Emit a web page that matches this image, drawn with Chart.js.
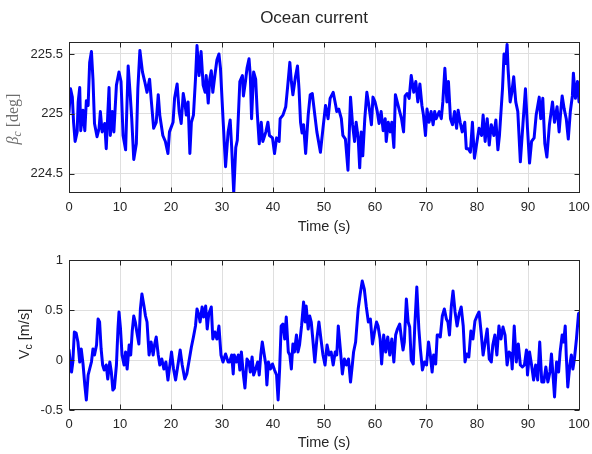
<!DOCTYPE html>
<html>
<head>
<meta charset="utf-8">
<script src="https://cdn.jsdelivr.net/npm/chart.js@4/dist/chart.umd.min.js"></script>
<style>
  html, body { margin: 0; padding: 0; background: #ffffff; }
  #wrap { position: relative; width: 592px; height: 454px; background: #ffffff; }
  canvas { position: absolute; left: 0; }
</style>
</head>
<body>
<div id="wrap">
  <canvas id="c1" width="592" height="236" style="top:0px"></canvas>
  <canvas id="c2" width="592" height="218" style="top:236px"></canvas>
</div>
<script>
// ---------------- data ----------------
const chartTitle = 'Ocean current';
const xLabel = 'Time (s)';
const xTicks = [0, 10, 20, 30, 40, 50, 60, 70, 80, 90, 100];
const betaTicks = [224.5, 225, 225.5];
const vTicks = [-0.5, 0, 0.5, 1];

const timeTop = [
  0, 0.3, 0.65, 0.9, 1.2, 1.6, 1.8, 2.1, 2.3, 2.75, 3.1, 3.4, 3.75, 4.05, 4.4, 4.7, 5.0, 5.5, 5.9, 6.15,
  6.5, 7.0, 7.3, 7.6, 7.85, 8.1, 8.5, 8.8, 9.3, 9.8, 10.2, 10.6, 11.1, 11.6, 12.0, 12.3, 12.7, 13.2, 13.5, 13.9,
  14.4, 14.85, 15.3, 15.8, 16.1, 16.6, 17.1, 17.5, 17.8, 18.4, 18.9, 19.4, 19.7, 20.4, 20.7, 21.2, 21.6, 22.0, 22.4, 22.7,
  23.0, 23.35, 23.7, 24.0, 24.4, 24.8, 25.1, 25.5, 25.9, 26.3, 26.7, 26.9, 27.3, 27.6, 27.9, 28.2, 28.6, 29.0, 29.4, 29.7,
  30.2, 30.7, 31.2, 31.6, 31.9, 32.3, 32.7, 33.0, 33.5, 34.0, 34.2, 34.6, 34.9, 35.3, 35.55, 35.8, 36.2, 36.6, 36.9, 37.3,
  37.7, 38.0, 38.6, 39.0, 39.3, 39.9, 40.3, 40.7, 41.2, 41.4, 41.95, 42.5, 42.9, 43.3, 43.6, 43.9, 44.4, 44.8, 45.1, 45.4,
  45.7, 46.0, 46.4, 46.9, 47.3, 47.7, 48.2, 48.6, 49.3, 49.8, 50.3, 50.8, 51.2, 51.8, 52.3, 52.5, 52.9, 53.4, 53.7, 54.2,
  54.7, 55.2, 55.6, 56.0, 56.3, 56.7, 57.0, 57.3, 57.6, 58.0, 58.4, 58.8, 59.3, 59.6, 60.0, 60.4, 60.8, 61.2, 61.6, 62.0,
  62.2, 62.6, 63.0, 63.3, 63.7, 64.0, 64.84, 65.2, 65.6, 65.9, 66.3, 66.7, 67.1, 67.6, 68.0, 68.4, 68.8, 69.2, 69.5, 69.9,
  70.2, 70.6, 71.0, 71.4, 71.7, 72.0, 72.6, 73.0, 73.3, 73.7, 74.1, 74.4, 74.8, 75.2, 75.6, 76.0, 76.3, 76.7, 77.1, 77.6,
  77.9, 78.3, 78.7, 79.1, 79.5, 80.0, 80.4, 80.9, 81.2, 81.6, 82.0, 82.4, 82.8, 83.3, 83.7, 84.1, 84.4, 85.0, 85.3, 85.6,
  85.9, 86.1, 86.5, 86.8, 87.2, 87.6, 88.0, 88.5, 89.0, 89.5, 89.9, 90.3, 90.7, 91.2, 91.6, 92.2, 92.5, 92.9, 93.3, 93.7,
  94.2, 94.8, 95.2, 95.7, 96.1, 96.5, 96.7, 97.1, 97.5, 97.9, 98.3, 98.7, 98.9, 99.3, 99.7, 100
];
const betaC = [
  225.01, 225.21, 225.14, 224.93, 224.77, 224.85, 225.10, 225.22, 224.86, 225.03, 224.86, 225.11, 225.07, 225.43, 225.52, 225.29, 224.92, 224.81, 224.88, 225.02,
  224.85, 224.92, 224.71, 224.99, 225.22, 224.82, 225.02, 224.85, 225.24, 225.35, 225.27, 224.82, 224.70, 225.40, 225.16, 224.96, 224.62, 224.75, 225.21, 225.53,
  225.35, 225.27, 225.18, 225.29, 225.13, 224.88, 224.93, 225.16, 224.99, 224.82, 224.77, 224.67, 224.85, 224.93, 225.13, 225.25, 225.02, 224.92, 225.17, 225.10,
  224.99, 225.10, 224.67, 224.93, 224.99, 225.29, 225.57, 225.32, 225.52, 225.24, 225.18, 225.32, 225.09, 225.29, 225.36, 225.18, 225.32, 225.45, 225.50, 225.38,
  224.96, 224.56, 224.85, 224.95, 224.72, 224.34, 224.72, 224.78, 225.27, 225.32, 225.15, 225.27, 225.38, 225.46, 225.32, 224.96, 225.35, 225.29, 225.02, 224.75,
  224.93, 224.77, 224.85, 224.93, 224.82, 224.80, 224.67, 224.80, 224.77, 224.96, 224.99, 225.06, 225.24, 225.43, 225.27, 225.16, 225.31, 225.40, 225.21, 224.93,
  224.84, 224.91, 224.67, 224.99, 225.16, 225.17, 224.99, 224.85, 224.68, 224.88, 225.07, 224.96, 225.13, 225.18, 225.07, 225.02, 225.04, 224.96, 224.82, 224.79,
  224.53, 225.14, 224.91, 224.77, 224.93, 224.80, 224.55, 224.85, 224.65, 224.96, 225.18, 225.07, 224.91, 225.14, 225.10, 225.03, 224.92, 225.02, 224.86, 224.96,
  224.77, 224.93, 224.85, 224.93, 224.72, 225.16, 225.02, 224.96, 224.85, 225.15, 225.17, 225.13, 225.32, 225.18, 225.27, 225.10, 225.25, 225.07, 224.99, 224.82,
  225.04, 224.93, 225.02, 224.91, 225.02, 224.96, 225.02, 224.96, 225.10, 225.38, 225.10, 225.27, 224.96, 224.91, 225.02, 224.88, 225.03, 224.93, 224.85, 224.93,
  224.71, 224.71, 224.68, 224.93, 224.63, 224.77, 224.88, 224.82, 224.99, 224.77, 224.96, 224.74, 224.91, 224.82, 224.95, 224.70, 224.82, 225.21, 225.50, 225.42,
  225.58, 225.37, 225.10, 225.17, 225.31, 225.10, 225.02, 224.60, 224.91, 225.21, 224.88, 224.59, 224.77, 224.80, 224.99, 225.14, 224.96, 225.13, 224.75, 224.64,
  224.91, 225.10, 224.93, 225.06, 224.85, 225.06, 225.15, 225.04, 224.96, 224.79, 225.02, 225.15, 225.34, 225.13, 225.27, 225.10
];

const timeBottom = [
  0, 0.25, 0.5, 0.75, 1.05, 1.4, 1.75, 2.1, 2.4, 2.75, 3.1, 3.4, 3.75, 4.05, 4.4, 4.7, 5.0, 5.4, 5.7, 6.0,
  6.3, 6.6, 6.9, 7.3, 7.6, 8.0, 8.3, 8.6, 8.9, 9.3, 9.6, 9.8, 10.1, 10.4, 10.8, 11.1, 11.4, 11.8, 12.1, 12.4,
  12.7, 13.0, 13.3, 13.7, 14.0, 14.3, 14.7, 15.0, 15.3, 15.7, 16.1, 16.5, 16.8, 17.1, 17.5, 17.8, 18.2, 18.6, 19.0, 19.4,
  19.85, 20.1, 20.5, 20.9, 21.3, 21.8, 22.2, 22.7, 23.1, 23.5, 24.0, 24.4, 24.8, 25.1, 25.5, 25.7, 26.1, 26.4, 26.8, 27.1,
  27.4, 27.9, 28.2, 28.6, 29.0, 29.4, 29.8, 30.2, 30.7, 31.2, 31.5, 31.9, 32.2, 32.4, 32.8, 33.2, 33.5, 33.8, 34.2, 34.5,
  34.9, 35.3, 35.55, 35.9, 36.2, 36.6, 37.0, 37.3, 37.6, 37.9, 38.2, 38.6, 38.8, 39.1, 39.5, 39.9, 40.3, 40.7, 41.0, 41.3,
  41.6, 41.95, 42.3, 42.6, 43.0, 43.3, 43.6, 43.9, 44.2, 44.6, 44.9, 45.2, 45.6, 46.0, 46.3, 46.5, 46.9, 47.2, 47.5, 47.8,
  48.2, 48.6, 49.0, 49.4, 49.8, 50.2, 50.6, 51.0, 51.4, 51.8, 52.2, 52.5, 52.8, 53.2, 53.6, 54.0, 54.4, 54.8, 55.2, 55.55,
  55.8, 56.2, 56.7, 57.1, 57.5, 57.9, 58.3, 58.7, 59.1, 59.5, 59.9, 60.3, 60.6, 61.0, 61.3, 61.7, 62.1, 62.5, 62.9, 63.3,
  63.7, 64.05, 64.4, 64.84, 65.2, 65.5, 65.75, 66.15, 66.5, 66.8, 67.1, 67.5, 67.8, 68.2, 68.6, 68.9, 69.3, 69.7, 70.1, 70.5,
  70.85, 71.2, 71.5, 71.9, 72.2, 72.6, 72.8, 73.2, 73.6, 74.0, 74.3, 74.6, 74.97, 75.3, 75.7, 76.1, 76.5, 76.9, 77.3, 77.65,
  78.0, 78.4, 78.8, 79.2, 79.6, 80.0, 80.4, 80.8, 81.2, 81.6, 82.0, 82.4, 82.8, 83.1, 83.5, 83.9, 84.3, 84.7, 85.1, 85.5,
  85.9, 86.3, 86.7, 86.9, 87.3, 87.7, 88.1, 88.5, 88.9, 89.3, 89.7, 89.9, 90.3, 90.7, 91.1, 91.5, 91.9, 92.3, 92.7, 93.1,
  93.5, 93.9, 94.3, 94.6, 94.9, 95.2, 95.6, 96.0, 96.3, 96.7, 97.0, 97.3, 97.5, 97.8, 98.2, 98.5, 98.8, 99.1, 99.5, 99.9, 100
];
const vC = [
  0.10, -0.02, -0.12, -0.02, 0.28, 0.27, 0.18, -0.02, 0.11, -0.04, -0.25, -0.40, -0.15, -0.09, -0.02, 0.11, 0.05, 0.15, 0.41, 0.38,
  0.11, -0.05, -0.10, -0.05, -0.19, -0.02, -0.12, -0.30, -0.28, -0.05, 0.31, 0.48, 0.31, 0.05, -0.05, 0.08, -0.09, 0.15, 0.05, 0.29,
  0.44, 0.38, 0.28, 0.16, 0.51, 0.66, 0.54, 0.44, 0.38, 0.05, 0.18, 0.05, 0.16, 0.23, 0.05, -0.05, 0.01, -0.09, -0.02, -0.20,
  -0.02, 0.08, -0.09, -0.20, -0.07, 0.10, -0.05, -0.19, -0.14, -0.02, 0.13, 0.23, 0.34, 0.51, 0.44, 0.38, 0.53, 0.43, 0.54, 0.31,
  0.46, 0.53, 0.21, 0.28, 0.21, 0.34, 0.05, -0.02, 0.06, -0.02, -0.02, 0.05, -0.14, 0.05, -0.02, 0.05, -0.10, 0.08, -0.15, -0.28,
  0.01, -0.02, -0.12, 0.03, -0.15, -0.09, -0.02, -0.15, 0.05, 0.18, 0.08, -0.05, -0.25, -0.02, -0.09, -0.04, -0.10, -0.15, -0.40, -0.09,
  0.34, 0.36, 0.21, 0.43, 0.08, 0.05, -0.09, 0.16, 0.08, 0.25, 0.08, 0.15, 0.34, 0.58, 0.38, 0.54, 0.31, 0.44, 0.38, 0.21,
  -0.02, 0.21, 0.38, 0.21, 0.05, -0.05, 0.15, 0.05, 0.08, -0.05, 0.08, 0.05, 0.34, 0.11, -0.14, 0.01, -0.05, 0.01, -0.22, -0.05,
  0.08, 0.18, 0.51, 0.66, 0.79, 0.71, 0.53, 0.38, 0.41, 0.16, 0.28, 0.38, 0.34, 0.21, -0.04, 0.25, 0.08, 0.23, 0.05, 0.21,
  -0.02, 0.25, 0.31, 0.36, 0.21, 0.10, 0.18, 0.61, 0.38, 0.33, 0.00, -0.04, 0.34, 0.73, 0.31, 0.11, -0.10, -0.02, -0.05, 0.18,
  0.05, -0.12, 0.05, -0.04, 0.25, 0.25, 0.23, 0.44, 0.51, 0.41, 0.38, 0.25, 0.54, 0.69, 0.48, 0.34, 0.46, 0.53, 0.34, -0.02,
  0.06, 0.03, 0.29, 0.21, 0.39, 0.44, 0.48, 0.28, 0.05, 0.18, 0.31, 0.01, -0.02, 0.15, 0.25, 0.05, 0.34, 0.21, 0.33, 0.25,
  -0.05, 0.08, 0.06, -0.09, 0.34, -0.02, 0.16, -0.05, -0.07, -0.05, 0.10, -0.15, 0.08, -0.05, -0.20, -0.05, -0.20, 0.18, -0.22, -0.22,
  -0.07, -0.22, -0.12, 0.06, -0.15, -0.37, -0.02, -0.12, 0.08, 0.25, 0.18, 0.34, 0.05, -0.27, -0.05, 0.05, -0.09, 0.01, 0.21, 0.46, 0.47
];

// ---------------- styling ----------------
const SANS = '"Liberation Sans", Arial, Helvetica, sans-serif';
const SERIF = '"Liberation Serif", "DejaVu Serif", serif';
const TXT = '#262626';
const GRID = '#dfdfdf';
const LINE = '#0000ff';

function fixTicks(list) {
  return function (scale) { scale.ticks = list.map(v => ({ value: v })); };
}

function drawRotatedParts(ctx, parts, cx, cy, color) {
  ctx.save();
  ctx.translate(cx, cy);
  ctx.rotate(-Math.PI / 2);
  ctx.fillStyle = color;
  ctx.textBaseline = 'middle';
  ctx.textAlign = 'left';
  let total = 0;
  parts.forEach(p => { ctx.font = p.font; p.w = ctx.measureText(p.text).width; total += p.w; });
  let xx = -total / 2;
  parts.forEach(p => { ctx.font = p.font; ctx.fillText(p.text, xx, p.dy); xx += p.w; });
  ctx.restore();
}

const boxPlugin = {
  id: 'matlabBox',
  afterDraw(chart, args, opts) {
    const { ctx, chartArea: a, scales } = chart;
    const x = scales.x, y = scales.y;
    ctx.save();
    ctx.strokeStyle = TXT;
    ctx.lineWidth = 1;
    const L = Math.round(a.left) + 0.5, R = Math.round(a.right) + 0.5;
    const T = Math.round(a.top) + 0.5, B = Math.round(a.bottom) - 0.5;
    ctx.strokeRect(L, T, R - L, B - T);
    const tl = 5;
    ctx.beginPath();
    xTicks.forEach(v => {
      const px = Math.round(x.getPixelForValue(v)) + 0.5;
      ctx.moveTo(px, B); ctx.lineTo(px, B - tl);
      ctx.moveTo(px, T); ctx.lineTo(px, T + tl);
    });
    opts.yTicks.forEach(v => {
      const py = Math.round(y.getPixelForValue(v)) + 0.5;
      ctx.moveTo(L, py); ctx.lineTo(L + tl, py);
      ctx.moveTo(R, py); ctx.lineTo(R - tl, py);
    });
    ctx.stroke();
    if (opts.title) {
      ctx.fillStyle = TXT;
      ctx.font = '17px ' + SANS;
      ctx.textAlign = 'center';
      ctx.textBaseline = 'middle';
      ctx.fillText(opts.title, 314, 18);
    }
    if (opts.ylabel) {
      drawRotatedParts(ctx, opts.ylabel.parts, opts.ylabel.x, opts.ylabel.y, opts.ylabel.color);
    }
    ctx.restore();
  }
};

function makeOptions(yMin, yMax, yTicks, topPad, xHeight, titleBottomPad, extra) {
  return {
    responsive: false,
    animation: false,
    devicePixelRatio: 1,
    layout: { padding: { left: 0, right: 13, top: topPad, bottom: 0 } },
    plugins: {
      legend: { display: false },
      tooltip: { enabled: false },
      title: { display: false },
      matlabBox: Object.assign({ yTicks: yTicks }, extra)
    },
    scales: {
      x: {
        type: 'linear',
        min: 0, max: 100,
        afterBuildTicks: fixTicks(xTicks),
        afterFit: s => { s.height = xHeight; s.paddingLeft = 0; s.paddingRight = 0; },
        grid: { color: GRID, lineWidth: 1, drawTicks: false },
        border: { display: false },
        ticks: {
          autoSkip: false, maxRotation: 0, padding: 7,
          color: TXT, font: { family: SANS, size: 13 },
          callback: v => String(v)
        },
        title: {
          display: true, text: xLabel, color: TXT,
          font: { family: SANS, size: 14.5 },
          padding: { top: 0, bottom: titleBottomPad }
        }
      },
      y: {
        type: 'linear',
        min: yMin, max: yMax,
        afterBuildTicks: fixTicks(yTicks),
        afterFit: s => { s.width = 69; s.paddingTop = 0; s.paddingBottom = 0; },
        grid: { color: GRID, lineWidth: 1, drawTicks: false },
        border: { display: false },
        ticks: {
          autoSkip: false, padding: 6,
          color: TXT, font: { family: SANS, size: 13 },
          callback: v => String(v)
        }
      }
    }
  };
}

const topData = timeTop.map((t, i) => ({ x: t, y: betaC[i] }));
const botData = timeBottom.map((t, i) => ({ x: t, y: vC[i] }));

const lineStyle = { borderColor: LINE, borderWidth: 3, pointRadius: 0, tension: 0, fill: false, borderJoinStyle: 'round', borderCapStyle: 'round' };

new Chart(document.getElementById('c1'), {
  type: 'line',
  data: { datasets: [Object.assign({ data: topData }, lineStyle)] },
  options: makeOptions(224.34, 225.6, betaTicks, 42, 43, 0, {
    title: chartTitle,
    ylabel: {
      x: 14, y: 119, color: '#6e6e6e',
      parts: [
        { text: 'β', font: 'italic 16px ' + SERIF, dy: 0 },
        { text: 'c', font: 'italic 11.5px ' + SERIF, dy: 4 },
        { text: ' [deg]', font: '16px ' + SERIF, dy: 0 }
      ]
    }
  }),
  plugins: [boxPlugin]
});

new Chart(document.getElementById('c2'), {
  type: 'line',
  data: { datasets: [Object.assign({ data: botData }, lineStyle)] },
  options: makeOptions(-0.5, 1, vTicks, 24, 44, 2, {
    ylabel: {
      x: 25, y: 98, color: TXT,
      parts: [
        { text: 'V', font: '14.5px ' + SANS, dy: 0 },
        { text: 'c', font: '10.5px ' + SANS, dy: 4 },
        { text: ' [m/s]', font: '14.5px ' + SANS, dy: 0 }
      ]
    }
  }),
  plugins: [boxPlugin]
});
</script>
</body>
</html>
